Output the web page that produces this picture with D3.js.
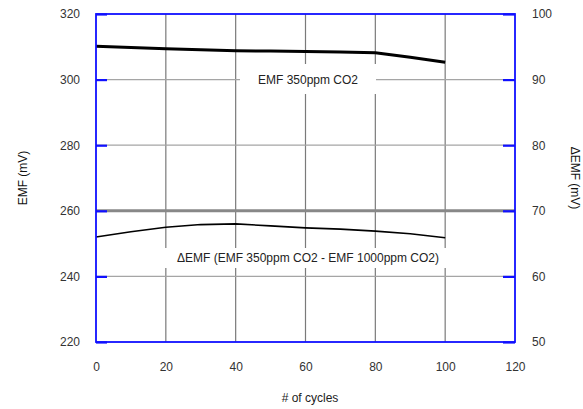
<!DOCTYPE html>
<html><head><meta charset="utf-8">
<script src="https://cdn.jsdelivr.net/npm/d3@7"></script>
<style>body{margin:0;background:#fff}text{font-family:"Liberation Sans",Arial,sans-serif}</style>
</head><body><svg id="c" width="583" height="409"></svg>
<script>
const cycles = [0,10,20,30,40,50,60,70,80,90,100];
const emf350 = [310.2,309.8,309.4,309.1,308.8,308.7,308.6,308.4,308.2,306.8,305.3];
const deltaEmf = [66.0,66.8,67.5,67.9,68.0,67.7,67.4,67.2,66.9,66.5,65.9];
const xTicks = [0,20,40,60,80,100,120];
const leftTicks = [220,240,260,280,300,320];
const rightTicks = [50,60,70,80,90,100];
const labels = {emf:"EMF 350ppm CO2", delta:"\u0394EMF (EMF 350ppm CO2 - EMF 1000ppm CO2)",
  x:"# of cycles", yl:"EMF (mV)", yr:"\u0394EMF (mV)"};

const svg = d3.select("#c");
const L=96,R=515,T=14,B=342;
const x = d3.scaleLinear().domain([0,120]).range([L,R]);
const yl = d3.scaleLinear().domain([220,320]).range([B,T]);
const yr = d3.scaleLinear().domain([50,100]).range([B,T]);

// grid
svg.append("g").selectAll("line").data(xTicks.slice(1,-1)).join("line")
  .attr("x1",d=>x(d)).attr("x2",d=>x(d)).attr("y1",T).attr("y2",B)
  .attr("stroke","#7a7a7a").attr("stroke-width",1.2);
svg.append("g").selectAll("line").data(leftTicks.slice(1,-1)).join("line")
  .attr("x1",L).attr("x2",R).attr("y1",d=>yl(d)).attr("y2",d=>yl(d))
  .attr("stroke",d=>d===260?"#888":"#a5a5a5").attr("stroke-width",d=>d===260?3:1.2);

// label boxes
function box(cx,cy,w,h){svg.append("rect").attr("x",cx-w/2).attr("y",cy-h/2).attr("width",w).attr("height",h).attr("fill","#fff");}
box(308,79,136,30);
box(308,258,316,20);

// lines
svg.append("path").datum(cycles.map((c,i)=>[c,emf350[i]]))
  .attr("d",d3.line().x(d=>x(d[0])).y(d=>yl(d[1])))
  .attr("fill","none").attr("stroke","#000").attr("stroke-width",3);
svg.append("path").datum(cycles.map((c,i)=>[c,deltaEmf[i]]))
  .attr("d",d3.line().x(d=>x(d[0])).y(d=>yr(d[1])))
  .attr("fill","none").attr("stroke","#000").attr("stroke-width",1.6);

// frame
svg.append("rect").attr("x",L).attr("y",T).attr("width",R-L).attr("height",B-T)
  .attr("fill","none").attr("stroke","#1010ff").attr("stroke-width",1.8);

// axes
const tc="#333";
const gl = svg.append("g").attr("transform",`translate(${L},0)`)
  .call(d3.axisLeft(yl).tickValues(leftTicks).tickSize(-11).tickPadding(16));
const gr = svg.append("g").attr("transform",`translate(${R},0)`)
  .call(d3.axisRight(yr).tickValues(rightTicks).tickSize(-12).tickPadding(17));
const gx = svg.append("g").attr("transform",`translate(0,${B})`)
  .call(d3.axisBottom(x).tickValues(xTicks).tickSize(0).tickPadding(28));
[gl,gr,gx].forEach(g=>{
  g.select(".domain").remove();
  g.selectAll("line").attr("stroke","#1010ff").attr("stroke-width",2.2);
  g.selectAll("text").attr("font-size",12).attr("fill",tc).attr("font-family",'"Liberation Sans",Arial,sans-serif');
});
gx.selectAll("text").attr("dy","0.1em");

// annotations
svg.append("text").attr("x",308).attr("y",84).attr("text-anchor","middle").attr("font-size",12).attr("fill","#222").text(labels.emf);
svg.append("text").attr("x",308).attr("y",262).attr("text-anchor","middle").attr("font-size",12).attr("fill","#222").text(labels.delta);
svg.append("text").attr("x",310).attr("y",402).attr("text-anchor","middle").attr("font-size",12).attr("fill","#222").text(labels.x);
svg.append("text").attr("transform","translate(27,178) rotate(-90)").attr("text-anchor","middle").attr("font-size",12).attr("fill","#111").text(labels.yl);
svg.append("text").attr("transform","translate(571,178) rotate(90)").attr("text-anchor","middle").attr("font-size",12).attr("fill","#111").text(labels.yr);
</script></body></html>
